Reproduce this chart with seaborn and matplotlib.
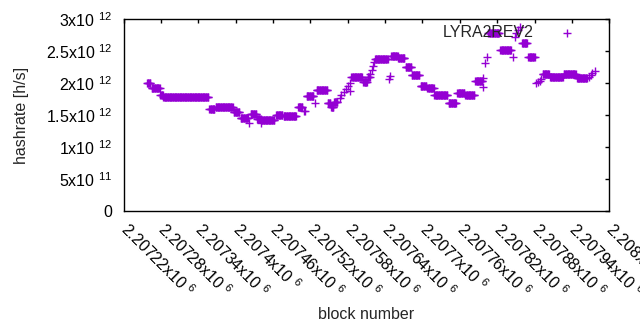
import numpy as np
import pandas as pd
import matplotlib
matplotlib.use("Agg")
import matplotlib.pyplot as plt
import seaborn as sns

# runs of blocks with the same hashrate (first block, last block, hashrate in 1e12 h/s)
run_start = [2207258, 2207265, 2207279, 2207284, 2207358, 2207368, 2207397, 2207408,
             2207424, 2207435, 2207442, 2207465, 2207477, 2207500, 2207514, 2207530,
             2207548, 2207553, 2207558, 2207586, 2207605, 2207612, 2207624, 2207650,
             2207661, 2207673, 2207683, 2207697, 2207708, 2207719, 2207742, 2207756,
             2207769, 2207785, 2207806, 2207825, 2207860, 2207870, 2207893, 2207905,
             2207927, 2207948]
run_end = [2207263, 2207278, 2207283, 2207356, 2207366, 2207395, 2207406, 2207420,
           2207433, 2207440, 2207462, 2207475, 2207497, 2207507, 2207525, 2207547,
           2207552, 2207557, 2207563, 2207603, 2207611, 2207615, 2207644, 2207660,
           2207671, 2207682, 2207695, 2207706, 2207718, 2207740, 2207754, 2207767,
           2207783, 2207796, 2207823, 2207842, 2207868, 2207880, 2207903, 2207925,
           2207946, 2207964]
run_rate = [2.00, 1.93, 1.81, 1.78, 1.59, 1.62, 1.54, 1.45,
            1.51, 1.44, 1.42, 1.50, 1.48, 1.62, 1.80, 1.89,
            1.69, 1.63, 1.70, 2.10, 2.01, 2.09, 2.37, 2.43,
            2.39, 2.26, 2.12, 1.95, 1.92, 1.81, 1.69, 1.85,
            1.81, 2.03, 2.78, 2.52, 2.63, 2.41, 2.15, 2.10,
            2.14, 2.08]

# single blocks
single_block = [2207421, 2207441, 2207509, 2207511, 2207527, 2207567, 2207570, 2207574,
                2207577, 2207580, 2207583, 2207584, 2207616, 2207619, 2207620, 2207622,
                2207647, 2207648, 2207797, 2207798, 2207800, 2207803, 2207845, 2207848,
                2207851, 2207853, 2207856, 2207882, 2207885, 2207888, 2207891, 2207967,
                2207970, 2207973, 2207977]
single_rate = [1.37, 1.37, 1.56, 1.56, 1.69, 1.77, 1.81, 1.86,
               1.91, 1.95, 2.00, 1.87, 2.15, 2.21, 2.27, 2.33,
               2.07, 2.11, 1.94, 2.08, 2.31, 2.41, 2.41, 2.73,
               2.78, 2.84, 2.88, 2.00, 2.02, 2.04, 2.07, 2.10,
               2.13, 2.16, 2.19]

xtick_mant = ['2.20722', '2.20728', '2.20734', '2.2074', '2.20746', '2.20752', '2.20758',
              '2.20764', '2.2077', '2.20776', '2.20782', '2.20788', '2.20794', '2.208']
ytick_text = ['0', '5x10 $^{11}$', '1x10 $^{12}$', '1.5x10 $^{12}$', '2x10 $^{12}$',
              '2.5x10 $^{12}$', '3x10 $^{12}$']

blocks = []
rates = []
for s, e, r in zip(run_start, run_end, run_rate):
    for b in range(s, e + 1):
        blocks.append(b)
        rates.append(r * 1e12)
blocks += single_block
rates += [r * 1e12 for r in single_rate]
df = pd.DataFrame({'block': blocks, 'hashrate': rates}).sort_values('block')

sns.set_style("white")
plt.rcParams['font.family'] = ['Liberation Sans', 'DejaVu Sans']
plt.rcParams['mathtext.fontset'] = 'custom'
plt.rcParams['mathtext.rm'] = 'Liberation Sans'
plt.rcParams['mathtext.default'] = 'regular'

fig = plt.figure(figsize=(6.4, 3.3), dpi=100)
ax = fig.add_axes([0.193, 0.3615, 0.759, 0.58])

sns.scatterplot(data=df, x='block', y='hashrate', marker='+', s=34, linewidth=1,
                color='#9400D3', label='LYRA2REV2', ax=ax)

xt = [2207220 + 60 * i for i in range(len(xtick_mant))]
ax.set_xlim(2207220, 2208000)
ax.set_ylim(0, 3e12)
ax.set_xticks(xt)
ax.set_xticklabels([m + 'x10 $^{6}$' for m in xtick_mant], rotation=-45,
                   ha='left', va='center', rotation_mode='anchor', fontsize=11.5)
ax.set_yticks([0.5e12 * i for i in range(7)])
ax.set_yticklabels(ytick_text, fontsize=11.5)
ax.tick_params(direction='in', length=3, width=1, color='black', top=True, right=True,
               labelcolor='black')
ax.tick_params(axis='x', pad=11)
ax.tick_params(axis='y', pad=8)
for sp in ax.spines.values():
    sp.set_visible(True)
    sp.set_color('black')
    sp.set_linewidth(1)

ax.set_xlabel('block number', fontsize=11.5, labelpad=5)
ax.set_ylabel('hashrate [h/s]', fontsize=11.5, labelpad=12)

ax.legend(loc='center right', bbox_to_anchor=(0.946, 0.932), frameon=False,
          markerfirst=False, borderpad=0, borderaxespad=0, handlelength=2,
          handletextpad=1.1, fontsize=11.5, markerscale=1)

fig.savefig('out.png', dpi=100)
